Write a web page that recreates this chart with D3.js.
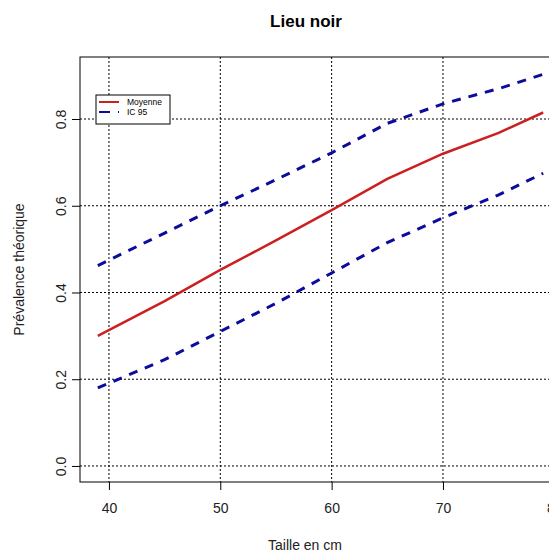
<!DOCTYPE html>
<html>
<head>
<meta charset="utf-8">
<script src="https://cdn.jsdelivr.net/npm/d3@7"></script>
<style>
  body { margin: 0; background: #fff; }
  text { font-family: "Liberation Sans", Arial, sans-serif; }
</style>
</head>
<body>
<script>
// Data
var taille = [39, 45, 50, 55, 60, 65, 70, 75, 79];
var moyenne = [0.30, 0.38, 0.452, 0.52, 0.59, 0.662, 0.72, 0.768, 0.815];
var icSup = [0.462, 0.537, 0.60, 0.66, 0.722, 0.79, 0.835, 0.87, 0.903];
var icInf = [0.18, 0.245, 0.31, 0.375, 0.445, 0.515, 0.572, 0.625, 0.675];

var xTicks = [40, 50, 60, 70, 80];
var yTicks = [0.0, 0.2, 0.4, 0.6, 0.8];

// SVG area
var svgWidth = 549;
var svgHeight = 558;

// plot region (right side runs past the window, like the reference)
var plot = { left: 80, top: 57, right: 561, bottom: 482 };

var svg = d3.select("body")
  .append("svg")
  .attr("width", svgWidth)
  .attr("height", svgHeight);

var xScale = d3.scaleLinear()
  .domain([37.4, 80.6])
  .range([plot.left, plot.right]);

var yScale = d3.scaleLinear()
  .domain([-0.037, 0.943])
  .range([plot.bottom, plot.top]);

// dotted grid
svg.append("g").selectAll("line")
  .data(xTicks)
  .enter()
  .append("line")
  .attr("x1", d => xScale(d))
  .attr("x2", d => xScale(d))
  .attr("y1", plot.top)
  .attr("y2", plot.bottom)
  .attr("stroke", "#000")
  .attr("stroke-width", 1)
  .attr("stroke-dasharray", "2,2");

svg.append("g").selectAll("line")
  .data(yTicks)
  .enter()
  .append("line")
  .attr("x1", plot.left)
  .attr("x2", plot.right)
  .attr("y1", d => yScale(d))
  .attr("y2", d => yScale(d))
  .attr("stroke", "#000")
  .attr("stroke-width", 1)
  .attr("stroke-dasharray", "2,2");

// the series lines
var rows = taille.map((t, i) => ({ t: t, m: moyenne[i], hi: icSup[i], lo: icInf[i] }));

function lineFor(key) {
  return d3.line()
    .x(d => xScale(d.t))
    .y(d => yScale(d[key]));
}

svg.append("path")
  .datum(rows)
  .attr("d", lineFor("hi"))
  .attr("fill", "none")
  .attr("stroke", "#0c0c9c")
  .attr("stroke-width", 3)
  .attr("stroke-dasharray", "9,8");

svg.append("path")
  .datum(rows)
  .attr("d", lineFor("lo"))
  .attr("fill", "none")
  .attr("stroke", "#0c0c9c")
  .attr("stroke-width", 3)
  .attr("stroke-dasharray", "9,8");

svg.append("path")
  .datum(rows)
  .attr("d", lineFor("m"))
  .attr("fill", "none")
  .attr("stroke", "#cc2020")
  .attr("stroke-width", 2.5);

// box around the plot
svg.append("rect")
  .attr("x", plot.left)
  .attr("y", plot.top)
  .attr("width", plot.right - plot.left)
  .attr("height", plot.bottom - plot.top)
  .attr("fill", "none")
  .attr("stroke", "#000")
  .attr("stroke-width", 1);

// axes
var bottomAxis = d3.axisBottom(xScale)
  .tickValues(xTicks)
  .tickSize(8)
  .tickPadding(13)
  .tickFormat(d3.format("d"));

var xAxisG = svg.append("g")
  .attr("transform", `translate(0, ${plot.bottom})`)
  .call(bottomAxis);
xAxisG.select(".domain").remove();
xAxisG.selectAll("text")
  .attr("font-size", 14)
  .attr("font-family", "Liberation Sans, Arial, sans-serif")
  .attr("fill", "#222");

var leftAxis = d3.axisLeft(yScale)
  .tickValues(yTicks)
  .tickSize(8)
  .tickFormat(d3.format(".1f"));

var yAxisG = svg.append("g")
  .attr("transform", `translate(${plot.left}, 0)`)
  .call(leftAxis);
yAxisG.select(".domain").remove();
yAxisG.selectAll("text")
  .attr("font-size", 14)
  .attr("font-family", "Liberation Sans, Arial, sans-serif")
  .attr("fill", "#222")
  .attr("text-anchor", "middle")
  .attr("dy", null)
  .attr("dominant-baseline", "central")
  .attr("x", null)
  .attr("transform", "translate(-19, 0) rotate(-90)");

// titles
svg.append("text")
  .attr("x", 306)
  .attr("y", 27)
  .attr("text-anchor", "middle")
  .attr("font-size", 17)
  .attr("font-weight", "bold")
  .text("Lieu noir");

svg.append("text")
  .attr("x", 305)
  .attr("y", 550)
  .attr("text-anchor", "middle")
  .attr("font-size", 14)
  .attr("fill", "#222")
  .text("Taille en cm");

svg.append("text")
  .attr("transform", `translate(24, ${(plot.top + plot.bottom) / 2}) rotate(-90)`)
  .attr("text-anchor", "middle")
  .attr("font-size", 14)
  .attr("fill", "#222")
  .text("Prévalence théorique");

// legend
var legendItems = [
  { label: "Moyenne", color: "#cc2020", dash: null },
  { label: "IC 95", color: "#0c0c9c", dash: "11,8" }
];

var legend = svg.append("g");

legend.append("rect")
  .attr("x", 96)
  .attr("y", 95)
  .attr("width", 74)
  .attr("height", 29)
  .attr("fill", "#fff")
  .attr("stroke", "#000")
  .attr("stroke-width", 1);

var item = legend.selectAll(".item")
  .data(legendItems)
  .enter()
  .append("g")
  .attr("transform", (d, i) => `translate(0, ${102 + i * 10})`);

item.append("line")
  .attr("x1", 99)
  .attr("x2", 119)
  .attr("stroke", d => d.color)
  .attr("stroke-width", 2)
  .attr("stroke-dasharray", d => d.dash);

item.append("text")
  .attr("x", 127)
  .attr("dy", "0.35em")
  .attr("font-size", 8.5)
  .text(d => d.label);
</script>
</body>
</html>
